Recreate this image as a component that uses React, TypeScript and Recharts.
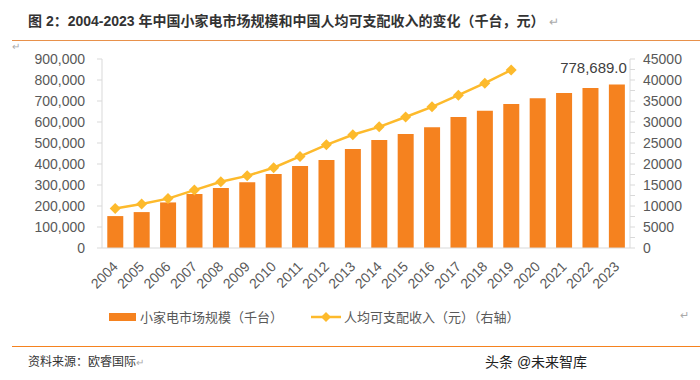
import React from "react";
import { ComposedChart, Bar, Line, XAxis, YAxis, LabelList } from "recharts";

const years = [
  "2004", "2005", "2006", "2007", "2008", "2009", "2010", "2011", "2012", "2013",
  "2014", "2015", "2016", "2017", "2018", "2019", "2020", "2021", "2022", "2023",
];
const marketSize = [
  152000, 171000, 217000, 257000, 286000, 313000, 352000, 390000, 419000, 471000,
  514000, 543000, 575000, 624000, 654000, 686000, 713000, 738000, 762000, 778689,
];
const income = [
  9422, 10493, 11759, 13786, 15781, 17175, 19109, 21810, 24565, 26955,
  28844, 31195, 33616, 36396, 39251, 42359, null, null, null, null,
];
const leftTicks = [0, 100000, 200000, 300000, 400000, 500000, 600000, 700000, 800000, 900000];
const rightTicks = [
  0, 2500, 5000, 7500, 10000, 12500, 15000, 17500, 20000, 22500,
  25000, 27500, 30000, 32500, 35000, 37500, 40000, 42500, 45000,
];

const data = years.map((y, i) => ({ year: y, size: marketSize[i], income: income[i] }));

const BAR = "#F5821F";
const LINE = "#FDBA2C";
const TXT = "#595959";
const AXIS = "#D9D9D9";
const NUM_FONT = "'Liberation Sans', Arial, sans-serif";
const CJK_FONT = "'Liberation Sans', 'Noto Sans CJK SC', sans-serif";

const fmt = (v: number) => v.toLocaleString("en-US");

const Diamond = (props: any) => {
  const { cx, cy, index } = props;
  if (cx == null || cy == null || props.value == null) return <g key={index} />;
  const r = 5.5;
  return (
    <polygon
      key={index}
      points={`${cx},${cy - r} ${cx + r},${cy} ${cx},${cy + r} ${cx - r},${cy}`}
      fill={LINE}
    />
  );
};

const YearTick = (props: any) => {
  const { x, y, payload } = props;
  return (
    <g transform={`translate(${x},${y + 8})`}>
      <text
        textAnchor="end"
        transform="rotate(-45)"
        fill={TXT}
        fontSize={14}
        fontFamily={NUM_FONT}
        dy={5}
      >
        {payload.value}
      </text>
    </g>
  );
};

const RightTick = (props: any) => {
  const { x, y, payload } = props;
  if (payload.value % 5000 !== 0) return <g />;
  return (
    <text x={x} y={y} dy={5} fill={TXT} fontSize={14} fontFamily={NUM_FONT} textAnchor="start">
      {payload.value}
    </text>
  );
};

const LastLabel = (props: any) => {
  const { x, y, width, index, value } = props;
  if (index !== years.length - 1) return null;
  return (
    <text
      x={x + width / 2 + 10}
      y={y - 11}
      textAnchor="end"
      fill="#404040"
      fontSize={15}
      fontFamily={NUM_FONT}
    >
      {fmt(value) + ".0"}
    </text>
  );
};

const App: React.FC = () => {
  return (
    <div style={{ position: "absolute", left: 0, top: 0, width: 700, height: 380, background: "#fff", overflow: "hidden" }}>
      <div
        style={{
          position: "absolute", left: 28, top: 10, fontSize: 14, fontWeight: "bold",
          color: "#333", fontFamily: "'Liberation Sans Narrow', 'Liberation Sans', 'Noto Sans CJK SC', sans-serif",
          whiteSpace: "nowrap",
        }}
      >
        图 2：2004-2023 年中国小家电市场规模和中国人均可支配收入的变化（千台，元）
        <span style={{ color: "#aaa", fontWeight: "normal", fontSize: 12, marginLeft: 4 }}>↵</span>
      </div>
      <div style={{ position: "absolute", left: 12, top: 40, width: 688, height: 1, background: "#E8914B" }} />
      <div style={{ position: "absolute", left: 12, top: 41, fontSize: 10, color: "#aaa" }}>↵</div>

      <div style={{ position: "absolute", left: 0, top: 0 }}>
        <ComposedChart
          width={700}
          height={380}
          data={data}
          margin={{ top: 59, right: 0, bottom: 82, left: 0 }}
          barCategoryGap="20%"
        >
          <XAxis
            dataKey="year"
            height={50}
            axisLine={{ stroke: AXIS }}
            tickLine={false}
            interval={0}
            tick={<YearTick />}
          />
          <YAxis
            yAxisId="left"
            width={102}
            domain={[0, 900000]}
            ticks={leftTicks}
            tickFormatter={fmt}
            axisLine={{ stroke: AXIS }}
            tickLine={{ stroke: AXIS }}
            tickSize={5}
            tickMargin={12}
            interval={0}
            tick={{ fill: TXT, fontSize: 14, fontFamily: NUM_FONT }}
          />
          <YAxis
            yAxisId="right"
            orientation="right"
            width={70}
            domain={[0, 45000]}
            ticks={rightTicks}
            interval={0}
            axisLine={{ stroke: AXIS }}
            tickLine={{ stroke: AXIS }}
            tickSize={5}
            tickMargin={8}
            tick={<RightTick />}
          />
          <Bar yAxisId="left" dataKey="size" fill={BAR} isAnimationActive={false}>
            <LabelList dataKey="size" content={<LastLabel />} />
          </Bar>
          <Line
            yAxisId="right"
            dataKey="income"
            stroke={LINE}
            strokeWidth={2.5}
            dot={<Diamond />}
            activeDot={false}
            isAnimationActive={false}
          />
        </ComposedChart>
      </div>

      <div style={{ position: "absolute", left: 109, top: 307, display: "flex", alignItems: "center", fontSize: 13, color: TXT, fontFamily: CJK_FONT, whiteSpace: "nowrap" }}>
        <svg width={27} height={8} style={{ marginRight: 4 }}>
          <rect x={0} y={0} width={27} height={8} fill={BAR} />
        </svg>
        <span>小家电市场规模（千台）</span>
      </div>
      <div style={{ position: "absolute", left: 311, top: 307, display: "flex", alignItems: "center", fontSize: 13, color: TXT, fontFamily: CJK_FONT, whiteSpace: "nowrap" }}>
        <svg width={30} height={12} style={{ marginRight: 3 }}>
          <line x1={0} y1={6} x2={30} y2={6} stroke={LINE} strokeWidth={2.5} />
          <polygon points="15,1 20,6 15,11 10,6" fill={LINE} />
        </svg>
        <span>人均可支配收入（元）（右轴）</span>
      </div>
      <div style={{ position: "absolute", left: 680, top: 309, fontSize: 11, color: "#aaa" }}>↵</div>

      <div style={{ position: "absolute", left: 12, top: 346, width: 688, height: 1, background: "#F5821F" }} />
      <div style={{ position: "absolute", left: 28, top: 352, fontSize: 12, color: "#333", fontFamily: CJK_FONT, whiteSpace: "nowrap" }}>
        资料来源：欧睿国际<span style={{ color: "#aaa", fontSize: 10 }}>↵</span>
      </div>
      <div style={{ position: "absolute", left: 485, top: 351, fontSize: 14, color: "#222", fontFamily: CJK_FONT, whiteSpace: "nowrap" }}>
        头条 @未来智库
      </div>
    </div>
  );
};

export default App;
